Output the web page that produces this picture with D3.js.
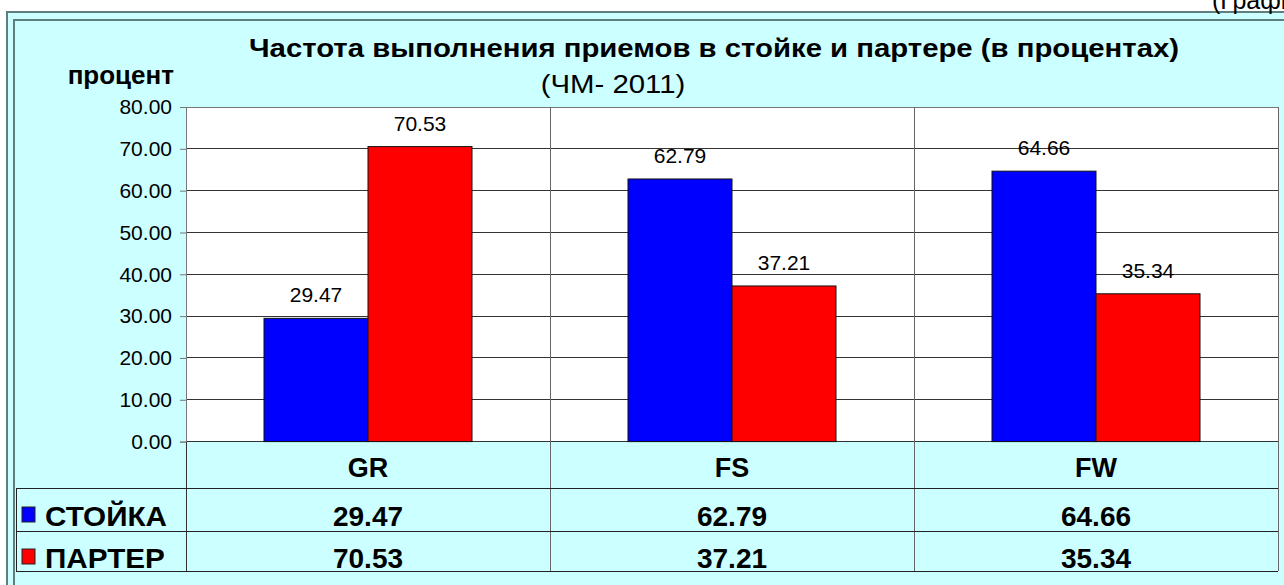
<!DOCTYPE html>
<html><head><meta charset="utf-8">
<script src="https://cdn.jsdelivr.net/npm/d3@7"></script>
<style>body{margin:0;background:#fff}svg{display:block;font-family:"Liberation Sans",Arial,sans-serif}</style>
</head><body><svg id="c" width="1284" height="585"></svg>
<script>
const categories = ["GR", "FS", "FW"];
const seriesNames = ["СТОЙКА", "ПАРТЕР"];
const stoika = [29.47, 62.79, 64.66];
const parter = [70.53, 37.21, 35.34];
const yTicks = [0, 10, 20, 30, 40, 50, 60, 70, 80];
const seriesColors = ["#0000ff", "#ff0000"];
const titleText = "Частота выполнения приемов в стойке и партере (в процентах)";
const subtitleText = "(ЧМ- 2011)";
const yLabel = "процент";
const cornerText = "(График";

const values = [stoika, parter];
const svg = d3.select("#c");
const L = 186, R = 1278, T = 107, B = 441.6;
const tableRows = [441.6, 488, 531, 571];
const tableLeft = 16;

// frames
svg.append("rect").attr("x", 7).attr("y", 12).attr("width", 1300).attr("height", 600)
  .attr("fill", "#ccffff").attr("stroke", "#5f7f7f").attr("stroke-width", 2);
svg.append("rect").attr("x", 14).attr("y", 20).attr("width", 1300).attr("height", 600)
  .attr("fill", "#ccffff").attr("stroke", "#5f7f7f").attr("stroke-width", 2);
svg.append("text").attr("x", 1212).attr("y", 9).attr("font-size", 25).text(cornerText);

const x = d3.scaleBand().domain(categories).range([L, R]).padding(0);
const xs = d3.scaleBand().domain(seriesNames).range([0, x.bandwidth()]).paddingInner(0).paddingOuter(0.75);
const y = d3.scaleLinear().domain([0, 80]).range([B, T]);

// plot area
svg.append("rect").attr("x", L).attr("y", T).attr("width", R - L).attr("height", B - T).attr("fill", "#fff");

// gridlines
svg.append("g").selectAll("line").data(yTicks).join("line")
  .attr("x1", L).attr("x2", R).attr("y1", d => y(d)).attr("y2", d => y(d))
  .attr("stroke", d => d === 80 ? "#777" : "#333").attr("stroke-width", 1).attr("shape-rendering", "crispEdges");

// axis
const ax = svg.append("g").attr("transform", `translate(${L},0)`)
  .call(d3.axisLeft(y).tickValues(yTicks).tickFormat(d3.format(".2f")).tickSize(6).tickPadding(8));
ax.select(".domain").attr("stroke", "#777");
ax.selectAll(".tick line").attr("stroke", "#777");
ax.selectAll("text").attr("font-size", 21).attr("font-family", "Liberation Sans, Arial, sans-serif").attr("fill", "#000");

// vertical dividers
svg.append("g").selectAll("line").data(categories.slice(1).concat(["__end"])).join("line")
  .attr("x1", d => d === "__end" ? R : x(d)).attr("x2", d => d === "__end" ? R : x(d))
  .attr("y1", T).attr("y2", tableRows[3])
  .attr("stroke", "#666").attr("shape-rendering", "crispEdges");
svg.append("line").attr("x1", L).attr("x2", L).attr("y1", B).attr("y2", tableRows[3])
  .attr("stroke", "#333").attr("shape-rendering", "crispEdges");

// bars
seriesNames.forEach((s, si) => {
  const g = svg.append("g");
  g.selectAll("rect").data(values[si]).join("rect")
    .attr("x", (d, i) => x(categories[i]) + xs(s))
    .attr("y", d => y(d)).attr("width", xs.bandwidth()).attr("height", d => B - y(d))
    .attr("fill", seriesColors[si]).attr("stroke", "#111").attr("stroke-width", 1);
  g.selectAll("text").data(values[si]).join("text")
    .attr("x", (d, i) => x(categories[i]) + xs(s) + xs.bandwidth() / 2)
    .attr("y", d => y(d) - 16).attr("text-anchor", "middle").attr("font-size", 21)
    .text(d => d.toFixed(2));
});

// table
svg.append("g").selectAll("line").data([tableRows[1], tableRows[2], tableRows[3]]).join("line")
  .attr("x1", tableLeft).attr("x2", R).attr("y1", d => d).attr("y2", d => d)
  .attr("stroke", "#222").attr("shape-rendering", "crispEdges");
svg.append("line").attr("x1", tableLeft).attr("x2", tableLeft).attr("y1", tableRows[1]).attr("y2", tableRows[3])
  .attr("stroke", "#222").attr("shape-rendering", "crispEdges");

svg.append("g").selectAll("text").data(categories).join("text")
  .attr("x", d => x(d) + x.bandwidth() / 2).attr("y", 477).attr("text-anchor", "middle")
  .attr("font-size", 27).attr("font-weight", "bold").text(d => d);

const rowBase = [526, 568];
seriesNames.forEach((s, si) => {
  svg.append("rect").attr("x", 22).attr("y", rowBase[si] - 19).attr("width", 13).attr("height", 15)
    .attr("fill", seriesColors[si]).attr("stroke", "#222");
  svg.append("text").attr("transform", `translate(45,${rowBase[si]}) scale(1.06,1)`)
    .attr("font-size", 28).attr("font-weight", "bold").text(s);
  svg.append("g").selectAll("text").data(values[si]).join("text")
    .attr("x", (d, i) => x(categories[i]) + x.bandwidth() / 2).attr("y", rowBase[si])
    .attr("text-anchor", "middle").attr("font-size", 28).attr("font-weight", "bold")
    .text(d => d.toFixed(2));
});

// titles
svg.append("text").attr("transform", "translate(714,57) scale(1.15,1)").attr("text-anchor", "middle")
  .attr("font-size", 25.5).attr("font-weight", "bold").text(titleText);
svg.append("text").attr("transform", "translate(613,93) scale(1.13,1)").attr("text-anchor", "middle")
  .attr("font-size", 26).text(subtitleText);
svg.append("text").attr("x", 174).attr("y", 84).attr("text-anchor", "end")
  .attr("font-size", 26).attr("font-weight", "bold").text(yLabel);
</script></body></html>
